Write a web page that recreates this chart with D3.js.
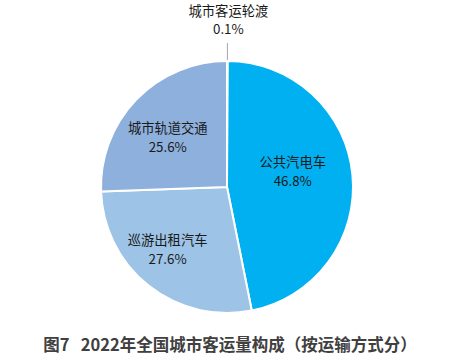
<!DOCTYPE html>
<html><head><meta charset="utf-8">
<script src="https://cdn.jsdelivr.net/npm/d3@7/dist/d3.min.js"></script>
<style>body{margin:0;background:#fff}svg{display:block}</style>
</head><body>
<svg id="c" width="452" height="361"></svg>
<script>
const categories = ["城市客运轮渡", "公共汽电车", "巡游出租汽车", "城市轨道交通"];
const values = [0.1, 46.8, 27.6, 25.6];
const valueLabels = ["0.1%", "46.8%", "27.6%", "25.6%"];
const colors = ["#7F9FD0", "#00B0F0", "#9DC3E6", "#8EB0DD"];
const title = "图7   2022年全国城市客运量构成（按运输方式分）";

const svg = d3.select("#c");
const cx = 227, cy = 187, R = 126;
const g = svg.append("g").attr("transform", `translate(${cx},${cy})`);
const pie = d3.pie().sort(null).value(d => d)(values);
const arc = d3.arc().innerRadius(0).outerRadius(R);
g.selectAll("path").data(pie).join("path")
  .attr("d", arc).attr("fill", (d, i) => colors[i])
  .attr("stroke", "#fff").attr("stroke-width", 2).attr("stroke-linejoin", "round");

const labelArc = d3.arc().innerRadius(R * 0.62).outerRadius(R * 0.62);
const nudge = [[0, 0], [-12, -8], [-11, 2], [-3, 5]];
const font = "'Microsoft YaHei','Noto Sans CJK SC',sans-serif";
pie.forEach((d, i) => {
  if (i === 0) return;
  const [x, y] = labelArc.centroid(d);
  const t = g.append("text").attr("text-anchor", "middle")
    .attr("font-family", font).attr("font-size", 13.3).attr("fill", "#1a1a1a");
  t.append("tspan").attr("x", x + nudge[i][0]).attr("y", y + nudge[i][1] - 5).text(categories[i]);
  t.append("tspan").attr("x", x + nudge[i][0]).attr("y", y + nudge[i][1] + 14).text(valueLabels[i]);
});
// ferry: outside label with leader
const a0 = (pie[0].startAngle + pie[0].endAngle) / 2;
const px = Math.sin(a0) * R, py = -Math.cos(a0) * R;
g.append("line").attr("x1", px).attr("y1", py - 1).attr("x2", px).attr("y2", py - 18)
  .attr("stroke", "#a6a6a6").attr("stroke-width", 1);
const ft = g.append("text").attr("text-anchor", "middle")
  .attr("font-family", font).attr("font-size", 13.3).attr("fill", "#1a1a1a");
ft.append("tspan").attr("x", px + 1).attr("y", py - 45).text(categories[0]);
ft.append("tspan").attr("x", px + 1).attr("y", py - 27).text(valueLabels[0]);

svg.append("text").attr("x", 230).attr("y", 351).attr("text-anchor", "middle")
  .attr("font-family", font).attr("font-size", 16.5).attr("font-weight", "bold")
  .attr("fill", "#404040").attr("xml:space", "preserve").style("white-space", "pre").text(title);
</script>
</body></html>
